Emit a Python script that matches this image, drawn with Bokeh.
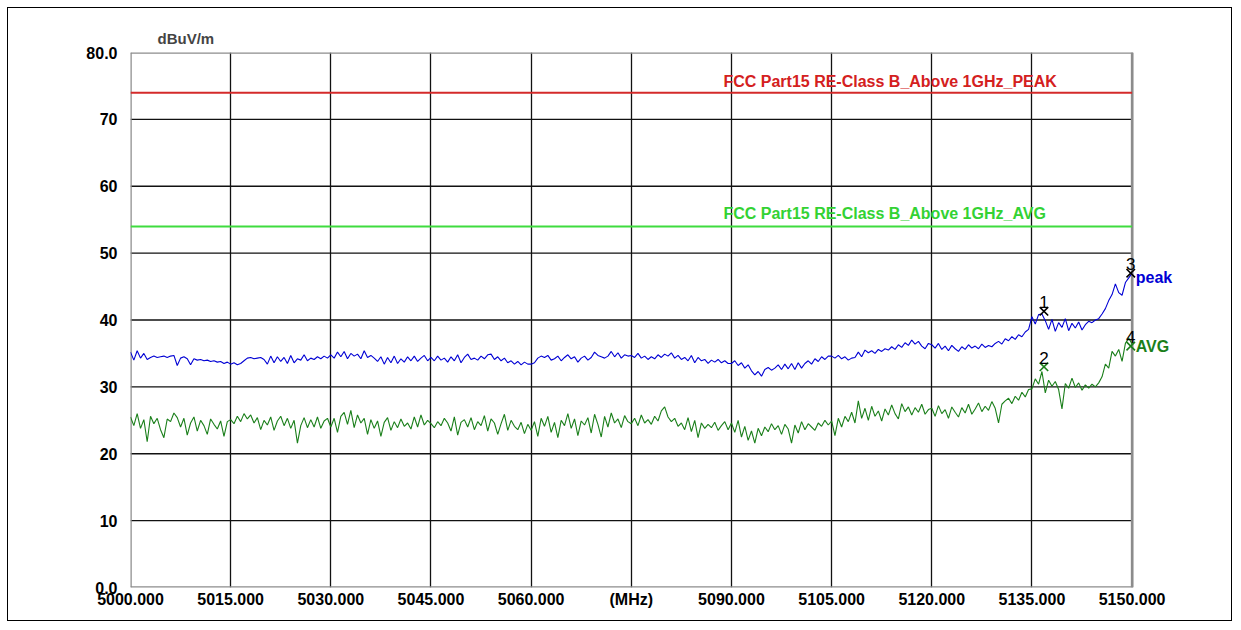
from bokeh.plotting import figure
from bokeh.models import Range1d, Label, FixedTicker
from bokeh.embed import file_html
from bokeh.resources import INLINE
import numpy as np

# ---------------- data ----------------
FREQ_START = 5000.0
FREQ_STOP = 5150.0
FREQ_STEP = 0.5
X_TICKS = [5000, 5015, 5030, 5045, 5060, 5075, 5090, 5105, 5120, 5135, 5150]
X_TICK_LABELS = ["5000.000", "5015.000", "5030.000", "5045.000", "5060.000", "(MHz)",
                 "5090.000", "5105.000", "5120.000", "5135.000", "5150.000"]
Y_TICKS = [0, 10, 20, 30, 40, 50, 60, 70, 80]
Y_TICK_LABELS = ["0.0", "10", "20", "30", "40", "50", "60", "70", "80.0"]
UNIT = "dBuV/m"

PEAK_LIMIT = 74.0
AVG_LIMIT = 54.0
PEAK_LIMIT_NAME = "FCC Part15 RE-Class B_Above 1GHz_PEAK"
AVG_LIMIT_NAME = "FCC Part15 RE-Class B_Above 1GHz_AVG"

# peak trace, 15 MHz per block, 0.5 MHz steps
peak_5000 = [35.2, 34.0, 35.4, 34.3, 35.0, 34.1, 34.4, 34.6, 34.4, 34.5, 34.6, 34.4, 34.6, 34.7, 33.2,
             34.3, 34.5, 34.2, 33.3, 34.2, 34.0, 34.1, 33.9, 34.0, 33.8, 33.9, 33.7, 33.8, 33.5, 33.7]
peak_5015 = [33.4, 33.6, 33.3, 33.5, 33.9, 34.3, 34.4, 34.2, 34.3, 34.4, 34.1, 33.4, 34.6, 33.6, 34.5,
             33.8, 34.4, 33.5, 34.7, 33.6, 34.2, 34.0, 34.8, 33.9, 34.3, 34.1, 34.5, 34.2, 34.6, 34.3]
peak_5030 = [34.8, 34.3, 35.2, 34.5, 35.3, 34.2, 35.0, 34.6, 34.9, 34.2, 35.4, 34.4, 34.7, 34.3, 33.8,
             34.5, 33.4, 34.4, 33.6, 34.6, 33.5, 34.2, 33.7, 34.5, 33.9, 34.6, 33.8, 34.3, 34.7, 33.9]
peak_5045 = [34.4, 33.9, 34.6, 34.0, 34.3, 33.7, 34.5, 33.9, 34.8, 33.6, 34.4, 34.9, 34.1, 34.3, 34.0,
             34.6, 34.2, 34.8, 34.9, 34.1, 34.5, 33.9, 34.3, 33.6, 33.9, 33.4, 33.8, 33.3, 33.7, 33.4]
peak_5060 = [33.4, 33.6, 34.3, 34.6, 34.4, 34.7, 34.0, 34.2, 34.6, 33.9, 34.4, 34.8, 34.2, 34.5, 33.7,
             34.3, 34.6, 34.0, 34.4, 35.2, 34.7, 34.5, 34.3, 34.6, 35.3, 34.5, 35.1, 34.3, 34.8, 34.6]
peak_5075 = [34.7, 34.4, 35.0, 34.3, 34.6, 34.1, 34.5, 34.2, 34.8, 34.4, 34.9, 34.6, 35.1, 34.3, 34.7,
             34.1, 34.4, 33.9, 34.7, 33.6, 34.4, 33.9, 34.1, 33.5, 34.0, 33.7, 34.1, 33.6, 33.9, 33.5]
peak_5090 = [33.5, 33.9, 33.2, 33.6, 32.8, 33.3, 32.4, 31.8, 32.3, 31.6, 32.6, 32.9, 32.5, 32.8, 33.3,
             32.6, 33.4, 32.7, 33.5, 32.6, 33.6, 32.8, 33.5, 33.9, 33.4, 34.2, 33.8, 34.5, 34.1, 34.6]
peak_5105 = [34.6, 34.3, 34.7, 34.2, 34.5, 34.0, 34.3, 34.4, 35.2, 34.5, 35.5, 35.1, 35.4, 35.0, 35.6,
             35.3, 35.7, 35.5, 36.0, 35.6, 36.3, 35.9, 36.6, 36.2, 37.0, 36.4, 36.8, 36.1, 35.7, 36.5]
peak_5120 = [36.3, 35.8, 36.5, 35.6, 36.1, 35.4, 36.2, 35.7, 35.3, 36.0, 35.6, 36.3, 35.8, 36.1, 35.7,
             36.4, 35.9, 36.2, 36.0, 36.5, 36.8, 36.4, 37.2, 36.9, 37.5, 37.1, 37.8, 37.5, 38.2, 38.6]
peak_5135 = [40.5, 39.4, 40.8, 40.9, 39.9, 38.6, 40.1, 38.3, 39.6, 38.9, 40.2, 38.4, 39.5, 38.8, 39.7,
             38.5, 39.3, 39.8, 39.6, 40.0, 40.2, 40.9, 41.7, 42.9, 43.8, 45.4, 44.1, 43.7, 45.6, 46.3,
             47.0]

# average trace
avg_5000 = [25.5, 24.2, 26.0, 23.8, 25.1, 21.8, 25.6, 24.5, 25.3, 23.6, 22.4, 25.2, 24.8, 26.1, 25.4,
            24.0, 25.3, 22.8, 24.6, 25.5, 23.4, 25.0, 24.2, 22.9, 25.2, 24.4, 23.7, 24.9, 22.6, 24.8]
avg_5015 = [25.1, 24.5, 25.6, 24.8, 26.0, 25.2, 25.8, 24.6, 25.4, 23.6, 25.0, 24.3, 25.5, 23.5, 24.9,
            25.6, 24.2, 25.3, 23.8, 25.0, 21.6, 24.2, 25.4, 23.9, 25.1, 24.0, 25.5, 23.8, 24.9, 25.3]
avg_5030 = [24.0, 25.3, 23.2, 25.6, 26.2, 24.4, 26.5, 23.9, 25.8, 24.6, 25.3, 22.9, 25.1, 23.8, 24.9,
            22.6, 24.7, 25.4, 23.5, 24.8, 23.9, 25.2, 24.1, 24.6, 23.7, 25.5, 24.0, 25.8, 24.3, 25.0]
avg_5045 = [24.5, 23.9, 24.8, 24.2, 25.3, 24.6, 23.4, 25.5, 22.8, 24.7, 25.1, 24.0, 25.4, 23.6, 24.8,
            24.2, 25.7, 23.4, 25.2, 24.6, 22.9, 24.5, 25.9, 23.5, 25.0, 24.1, 23.6, 24.7, 23.0, 24.4]
avg_5060 = [23.5, 24.8, 22.6, 25.3, 24.1, 25.6, 23.2, 24.7, 22.4, 25.0, 24.2, 26.0, 23.8, 25.2, 22.7,
            24.9, 24.3, 25.4, 23.1, 25.9, 24.4, 22.5, 25.6, 24.0, 26.1, 24.6, 25.2, 23.9, 25.7, 24.8]
avg_5075 = [24.5, 25.3, 24.2, 25.8, 24.6, 25.1, 24.4, 25.6, 24.9, 26.4, 27.0, 25.5, 24.8, 25.3, 24.1,
            24.6, 23.6, 25.4, 23.3, 25.0, 22.4, 24.6, 23.8, 24.4, 23.9, 24.7, 23.5, 24.2, 24.8, 23.6]
avg_5090 = [24.6, 23.2, 25.0, 22.5, 24.1, 22.0, 23.4, 21.6, 23.8, 22.7, 24.0, 23.3, 24.5, 23.6, 24.2,
            22.9, 24.4, 23.7, 21.6, 24.3, 23.1, 24.8, 23.6, 24.5, 24.0, 23.5, 24.6, 24.1, 25.0, 24.3]
avg_5105 = [24.9, 22.7, 25.3, 24.0, 25.6, 24.8, 26.2, 24.6, 27.9, 25.3, 26.8, 25.0, 27.1, 25.6, 26.4,
            24.9, 26.7, 25.8, 27.3, 26.0, 25.2, 27.5, 26.3, 27.0, 25.8, 26.9, 26.2, 27.4, 25.9, 26.6]
avg_5120 = [26.8, 25.6, 27.2, 26.0, 26.6, 25.3, 27.0, 26.2, 25.5, 26.9, 26.1, 27.4, 25.9, 26.7, 27.6,
            26.3, 27.1, 26.5, 27.8, 26.8, 24.6, 27.4, 27.9, 28.3, 27.5, 28.6, 28.0, 29.2, 28.5, 29.6]
avg_5135 = [29.7, 31.2, 30.4, 32.3, 29.1, 31.0, 30.1, 30.8, 29.6, 26.7, 30.5, 29.8, 31.3, 29.9, 30.6,
            29.5, 30.3, 29.8, 30.4, 30.0, 30.6, 31.5, 33.4, 32.8, 35.3, 34.6, 35.6, 33.8, 36.5, 37.3,
            36.4]

# markers
MARKER_ID = ["1", "2", "3", "4"]
MARKER_FREQ = [5136.8, 5136.8, 5149.8, 5149.8]
MARKER_LEVEL = [41.3, 33.0, 47.0, 36.1]
MARKER_COLOR = ["#000000", "#1a7f1a", "#000000", "#1a7f1a"]
TRACE_NAMES = ["peak", "AVG"]

peak = peak_5000 + peak_5015 + peak_5030 + peak_5045 + peak_5060 + peak_5075 + peak_5090 + peak_5105 + peak_5120 + peak_5135
avg = avg_5000 + avg_5015 + avg_5030 + avg_5045 + avg_5060 + avg_5075 + avg_5090 + avg_5105 + avg_5120 + avg_5135
freq_peak = FREQ_START + FREQ_STEP * np.arange(len(peak))
freq_avg = FREQ_START + FREQ_STEP * np.arange(len(avg))

# ---------------- layout ----------------
FONT = "Liberation Sans"
W, H = 1225, 614
PLOT_LEFT, PLOT_W = 122, 1002          # grid area in px inside the figure
X_VIEW_END = 5158.0                     # room on the right for the trace names
frame_w = PLOT_W * (X_VIEW_END - FREQ_START) / (FREQ_STOP - FREQ_START)
right_border = int(round(W - PLOT_LEFT - frame_w))

p = figure(width=W, height=H, output_backend="svg", toolbar_location=None,
           x_range=Range1d(FREQ_START, X_VIEW_END), y_range=Range1d(0, 80),
           min_border_left=PLOT_LEFT, min_border_right=right_border,
           min_border_top=44, min_border_bottom=35,
           background_fill_color="white", border_fill_color="white",
           styles={"border": "1px solid #000000", "margin-left": "7px", "margin-top": "7px"})
p.outline_line_color = None

# unit label as title
p.title.text = UNIT
p.title.align = "left"
p.title.offset = 27
p.title.text_font = FONT
p.title.text_font_style = "bold"
p.title.text_font_size = "15px"
p.title.standoff = 11

p.xaxis.ticker = FixedTicker(ticks=X_TICKS)
p.yaxis.ticker = FixedTicker(ticks=Y_TICKS)
p.xaxis.major_label_overrides = {t: l for t, l in zip(X_TICKS, X_TICK_LABELS)}
p.yaxis.major_label_overrides = {t: l for t, l in zip(Y_TICKS, Y_TICK_LABELS)}
for ax in (p.xaxis[0], p.yaxis[0]):
    ax.axis_line_color = None
    ax.major_tick_line_color = None
    ax.minor_tick_line_color = None
    ax.major_tick_out = 0
    ax.major_tick_in = 0
    ax.major_label_text_font = FONT
    ax.major_label_text_font_style = "bold"
    ax.major_label_text_font_size = "16px"
    ax.major_label_text_color = "#000000"
p.yaxis.major_label_standoff = 13
p.xaxis.major_label_standoff = 3

# grid: vertical from the axis ticker, horizontal drawn only over the measured span
p.xgrid.grid_line_color = "#111111"
p.xgrid.grid_line_width = 1.3
p.ygrid.grid_line_color = None
inner_y = Y_TICKS[1:-1]
p.segment(x0=[FREQ_START] * len(inner_y), x1=[FREQ_STOP] * len(inner_y), y0=inner_y, y1=inner_y,
          line_color="#111111", line_width=1.3)
# gray chart border
p.segment(x0=[FREQ_START, FREQ_START, FREQ_START, FREQ_STOP],
          x1=[FREQ_STOP, FREQ_STOP, FREQ_START, FREQ_STOP],
          y0=[Y_TICKS[0], Y_TICKS[-1], Y_TICKS[0], Y_TICKS[0]],
          y1=[Y_TICKS[0], Y_TICKS[-1], Y_TICKS[-1], Y_TICKS[-1]],
          line_color="#8c8c8c", line_width=2.5)

# limit lines
p.line([FREQ_START, FREQ_STOP], [PEAK_LIMIT, PEAK_LIMIT], line_color="#d42a2a", line_width=2)
p.line([FREQ_START, FREQ_STOP], [AVG_LIMIT, AVG_LIMIT], line_color="#3fdc3f", line_width=2)
p.add_layout(Label(x=5088.8, y=PEAK_LIMIT, text=PEAK_LIMIT_NAME, text_color="#d42020",
                   text_font=FONT, text_font_style="bold", text_font_size="16px",
                   text_baseline="bottom", y_offset=3))
p.add_layout(Label(x=5088.8, y=AVG_LIMIT, text=AVG_LIMIT_NAME, text_color="#33d233",
                   text_font=FONT, text_font_style="bold", text_font_size="16px",
                   text_baseline="bottom", y_offset=4))

# traces
p.line(freq_peak, peak, line_color="#0000d4", line_width=1.1)
p.line(freq_avg, avg, line_color="#1a7f1a", line_width=1.1)

# markers
p.scatter(MARKER_FREQ, MARKER_LEVEL, marker="x", size=12, line_color=MARKER_COLOR, line_width=1.6)
for mid, mf, ml in zip(MARKER_ID, MARKER_FREQ, MARKER_LEVEL):
    p.add_layout(Label(x=mf, y=ml, text=mid, text_color="#000000", text_font=FONT,
                       text_font_size="17px", text_align="center", text_baseline="alphabetic",
                       y_offset=9))
for name, lvl, col, dy in zip(TRACE_NAMES, [MARKER_LEVEL[2], MARKER_LEVEL[3]],
                              ["#0000d4", "#1a7f1a"], [-4, 0]):
    p.add_layout(Label(x=MARKER_FREQ[2], y=lvl, text=name, text_color=col, text_font=FONT,
                       text_font_style="bold", text_font_size="16px", text_baseline="middle",
                       x_offset=5, y_offset=dy))

open("out.html", "w").write(file_html(p, INLINE))
